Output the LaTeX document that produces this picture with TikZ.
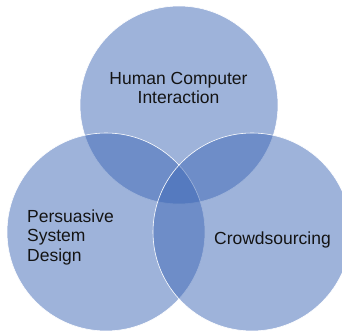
\documentclass[tikz,border=0pt]{standalone}
\usepackage{fontspec}
\setmainfont{Liberation Sans}
\definecolor{vennblue}{RGB}{62,104,182}
\definecolor{labeltext}{RGB}{20,20,20}
\begin{document}
\begin{tikzpicture}[x=1pt,y=-1pt,
  venn/.style={circle,minimum size=198pt,inner sep=0pt,fill=vennblue,fill opacity=0.5,draw=white,line width=0.6pt},
  label/.style={text=labeltext,font=\fontsize{17.5}{19.5}\selectfont,inner sep=0pt}]
  \useasboundingbox (0,0) rectangle (342,331);
  \clip (0,0) rectangle (342,331);
  % the three sets
  \node[venn] (hci) at (179,105) {};
  \node[venn] (psd) at (106,232) {};
  \node[venn] (crowd) at (252,232) {};
  % set names
  \node[label,align=center] (hcitext) at (178.5,88) {Human Computer\\Interaction};
  \node[label,align=left,anchor=north west] (psdtext) at (27,209.5) {Persuasive\\System\\Design};
  \node[label] (crowdtext) at (272.5,240) {Crowdsourcing};
\end{tikzpicture}
\end{document}
